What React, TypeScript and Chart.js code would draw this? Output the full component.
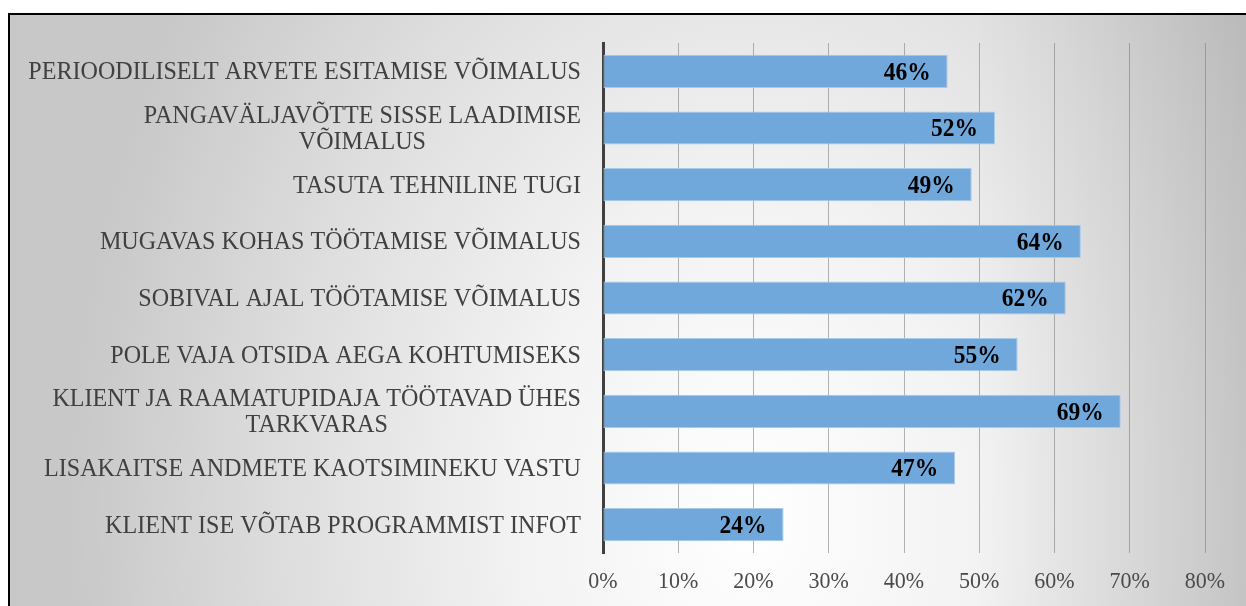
import React, { useEffect, useRef } from "react";
import { Chart, registerables } from "chart.js";

Chart.register(...registerables);

const categories: (string | string[])[] = [
  "PERIOODILISELT ARVETE ESITAMISE VÕIMALUS",
  ["PANGAVÄLJAVÕTTE SISSE LAADIMISE", "VÕIMALUS"],
  "TASUTA TEHNILINE TUGI",
  "MUGAVAS KOHAS TÖÖTAMISE VÕIMALUS",
  "SOBIVAL AJAL TÖÖTAMISE VÕIMALUS",
  "POLE VAJA OTSIDA AEGA KOHTUMISEKS",
  ["KLIENT JA RAAMATUPIDAJA TÖÖTAVAD ÜHES", "TARKVARAS"],
  "LISAKAITSE ANDMETE KAOTSIMINEKU VASTU",
  "KLIENT ISE VÕTAB PROGRAMMIST INFOT",
];

const values: number[] = [45.8, 52.1, 49.0, 63.5, 61.5, 55.1, 68.8, 46.8, 24.0];
const valueLabels: string[] = ["46%", "52%", "49%", "64%", "62%", "55%", "69%", "47%", "24%"];

const axisMin = 0;
const axisMax = 80;
const axisStep = 10;
const xTickValues: number[] = [0, 10, 20, 30, 40, 50, 60, 70, 80];
const xTickLabels: string[] = ["0%", "10%", "20%", "30%", "40%", "50%", "60%", "70%", "80%"];

const SERIF = '"Liberation Serif", "Times New Roman", serif';
const STRETCH = 1.08;

function stretchedText(ctx: any, text: string, x: number, y: number, sy: number) {
  ctx.save();
  ctx.translate(x, y);
  ctx.scale(1, sy);
  ctx.fillText(text, 0, 0);
  ctx.restore();
}

const textPlugin = {
  id: "customText",
  afterDraw(chart: any) {
    const { ctx } = chart;
    const yScale = chart.scales.y;
    const xScale = chart.scales.x;

    // category labels
    const right = yScale.right - 22;
    const lineH = 26;
    ctx.save();
    ctx.font = `24.1px ${SERIF}`;
    ctx.fillStyle = "#404040";
    ctx.textAlign = "center";
    ctx.textBaseline = "middle";
    categories.forEach((lab, i) => {
      const lines = Array.isArray(lab) ? lab : [lab];
      const w = Math.max(...lines.map((l) => ctx.measureText(l).width));
      const cx = right - w / 2;
      const yc = yScale.getPixelForValue(i) + 1;
      lines.forEach((l, j) => {
        stretchedText(ctx, l, cx, yc + (j - (lines.length - 1) / 2) * lineH, STRETCH);
      });
    });
    ctx.restore();

    // x tick labels
    ctx.save();
    ctx.font = `22px ${SERIF}`;
    ctx.fillStyle = "#4a4a4a";
    ctx.textAlign = "center";
    ctx.textBaseline = "middle";
    xTickValues.forEach((v, i) => {
      stretchedText(ctx, xTickLabels[i], xScale.getPixelForValue(v), xScale.top + 29, STRETCH);
    });
    ctx.restore();
  },
};

const dataLabelPlugin = {
  id: "dataLabels",
  afterDatasetsDraw(chart: any) {
    const { ctx } = chart;
    const meta = chart.getDatasetMeta(0);
    ctx.save();
    ctx.font = `bold 23.5px ${SERIF}`;
    ctx.fillStyle = "#000000";
    ctx.textAlign = "right";
    ctx.textBaseline = "middle";
    meta.data.forEach((bar: any, i: number) => {
      stretchedText(ctx, valueLabels[i], bar.x - 17, bar.y + 1.5, 1.1);
    });
    ctx.restore();
  },
};

export default function App() {
  const canvasRef = useRef<HTMLCanvasElement>(null);

  useEffect(() => {
    const canvas = canvasRef.current;
    if (!canvas) return;
    const chart = new Chart(canvas, {
      type: "bar",
      data: {
        labels: categories.map((c) => (Array.isArray(c) ? c.join(" ") : c)),
        datasets: [
          {
            data: values,
            backgroundColor: "#70a8dc",
            borderColor: "#a6c9ea",
            borderWidth: 1,
            borderSkipped: false,
            categoryPercentage: 1,
            barPercentage: 0.585,
          },
        ],
      },
      options: {
        indexAxis: "y",
        animation: false,
        responsive: false,
        layout: { padding: { top: 28, right: 41, left: 0, bottom: 0 } },
        plugins: {
          legend: { display: false },
          tooltip: { enabled: false },
          title: { display: false },
        },
        scales: {
          x: {
            min: axisMin,
            max: axisMax,
            ticks: {
              stepSize: axisStep,
              display: false,
            },
            grid: {
              color: "rgba(120,120,120,0.55)",
              lineWidth: 1,
              drawTicks: false,
            },
            border: { display: false },
            afterFit: (scale: any) => {
              scale.height = 53;
            },
          },
          y: {
            ticks: { display: false },
            grid: { display: false, drawTicks: false },
            border: { display: true, color: "#404040", width: 3 },
            afterFit: (scale: any) => {
              scale.width = 593;
            },
          },
        },
      },
      plugins: [dataLabelPlugin, textPlugin],
    });
    return () => chart.destroy();
  }, []);

  return (
    <div
      style={{
        position: "absolute",
        left: 8,
        top: 13,
        width: 1238,
        height: 593,
        boxSizing: "border-box",
        borderTop: "2px solid #000",
        borderLeft: "2px solid #000",
        background:
          "linear-gradient(to right, rgba(0,0,0,0) 78%, rgba(0,0,0,0.1) 100%), radial-gradient(ellipse 55% 160% at 60% 85%, #ffffff 0%, #f2f2f2 35%, #e0e0e0 65%, #c8c8c8 100%)",
        overflow: "hidden",
      }}
    >
      <canvas
        ref={canvasRef}
        width={1236}
        height={591}
        style={{ display: "block", width: 1236, height: 591 }}
      />
    </div>
  );
}
